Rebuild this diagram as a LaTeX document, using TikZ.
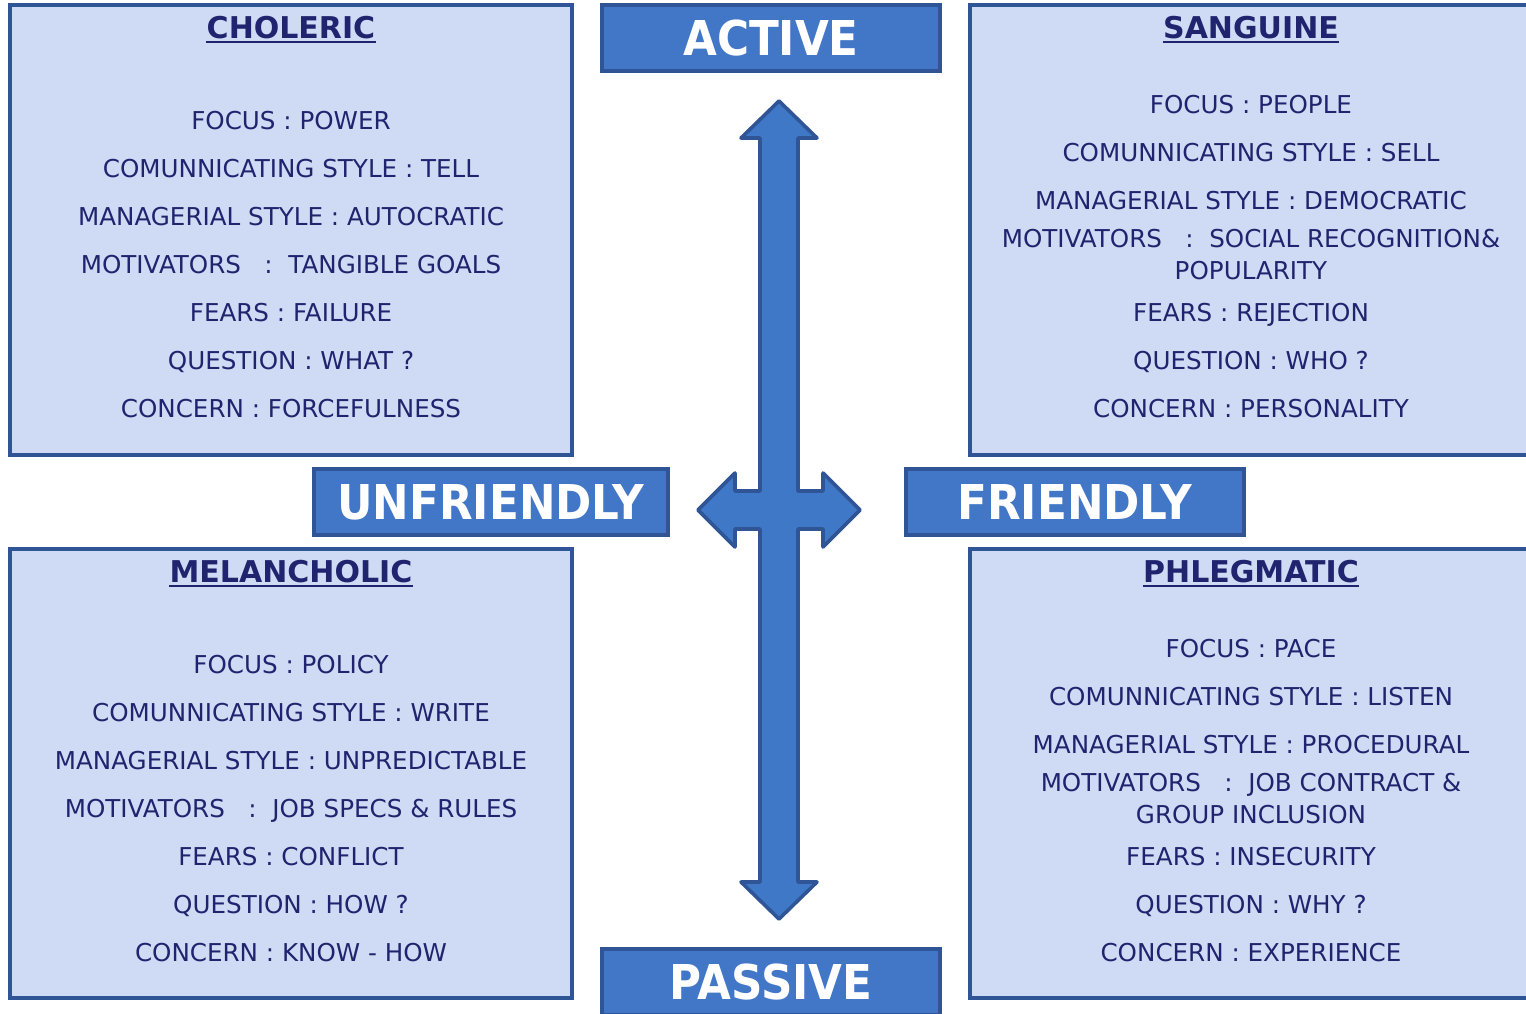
\documentclass[tikz,border=0pt]{standalone}
\usepackage{fontspec}
\setmainfont{DejaVu Sans}
\newfontfamily\labelfont[FakeStretch=0.91]{DejaVu Sans}
\definecolor{boxfill}{RGB}{207,218,244}
\definecolor{boxline}{RGB}{47,85,151}
\definecolor{lblfill}{RGB}{66,119,200}
\definecolor{arrfill}{RGB}{64,120,200}
\definecolor{txt}{RGB}{32,36,110}
\tikzset{
  quad/.style={draw=boxline, fill=boxfill, line width=1.7pt, inner sep=0pt},
  lbl/.style={draw=boxline, fill=lblfill, line width=1.7pt, text=white,
    font=\labelfont\bfseries\fontsize{24}{28}\selectfont, inner sep=0pt,
    minimum width=169pt, minimum height=33pt},
  arrowshape/.style={draw=boxline, fill=arrfill, line width=1.8pt, line join=round},
  body/.style={text=txt, font=\fontsize{12.3}{14}\selectfont, anchor=base, inner sep=0pt},
  ttl/.style={text=txt, font=\bfseries\fontsize{15}{18}\selectfont, anchor=base, inner sep=0pt},
  uline/.style={draw=txt, line width=1.2pt}
}
\begin{document}
\begin{tikzpicture}[x=0.5pt,y=-0.5pt]
\useasboundingbox (0,0) rectangle (1526,1013);
\clip (0,0) rectangle (1526,1013);
% quadrant boxes
\node[quad, minimum width=281pt, minimum height=225pt] (chol) at (291,230) {};
\node[quad, minimum width=287.5pt, minimum height=225pt] (sang) at (1257.5,230) {};
\node[quad, minimum width=281pt, minimum height=224.5pt] (mela) at (291,773.5) {};
\node[quad, minimum width=287.5pt, minimum height=224.5pt] (phle) at (1257.5,773.5) {};
% labels
\node[lbl] (active) at (771,38) {ACTIVE};
\node[lbl] (passive) at (771,982) {PASSIVE};
\node[lbl, minimum width=177pt] (unfr) at (491,502) {UNFRIENDLY};
\node[lbl] (frnd) at (1075,502) {FRIENDLY};
% central arrow
\path[arrowshape] (779,101) -- (817,138) -- (798,138) -- (798,491) -- (823,491) -- (823,473)
  -- (860,510) -- (823,547) -- (823,529) -- (798,529) -- (798,882) -- (817,882)
  -- (779,919) -- (741,882) -- (760,882) -- (760,529) -- (735,529) -- (735,547)
  -- (698,510) -- (735,473) -- (735,491) -- (760,491) -- (760,138) -- (741,138) -- cycle;
% titles
\node[ttl] (tch) at (291,38) {CHOLERIC};
\node[ttl] (tsa) at (1251,38) {SANGUINE};
\node[ttl] (tme) at (291,582) {MELANCHOLIC};
\node[ttl] (tph) at (1251,582) {PHLEGMATIC};
\foreach \n in {tch,tsa,tme,tph}
  \draw[uline] ([yshift=-2pt]\n.base west) -- ([yshift=-2pt]\n.base east);
% choleric
\foreach \y/\t [count=\i] in {129/FOCUS : POWER, 177/COMUNNICATING STYLE : TELL,
  225/MANAGERIAL STYLE : AUTOCRATIC, 273/MOTIVATORS\ \ \ :\ \ TANGIBLE GOALS,
  321/FEARS : FAILURE, 369/QUESTION : WHAT ?, 417/CONCERN : FORCEFULNESS}
  \node[body] (ch\i) at (291,\y) {\t};
% sanguine
\foreach \y/\t [count=\i] in {113/FOCUS : PEOPLE, 161/COMUNNICATING STYLE : SELL,
  209/MANAGERIAL STYLE : DEMOCRATIC, 247/MOTIVATORS\ \ \ :\ \ SOCIAL RECOGNITION\&,
  279/POPULARITY, 321/FEARS : REJECTION, 369/QUESTION : WHO ?, 417/CONCERN : PERSONALITY}
  \node[body] (sa\i) at (1251,\y) {\t};
% melancholic
\foreach \y/\t [count=\i] in {673/FOCUS : POLICY, 721/COMUNNICATING STYLE : WRITE,
  769/MANAGERIAL STYLE : UNPREDICTABLE, 817/MOTIVATORS\ \ \ :\ \ JOB SPECS \& RULES,
  865/FEARS : CONFLICT, 913/QUESTION : HOW ?, 961/CONCERN : KNOW - HOW}
  \node[body] (me\i) at (291,\y) {\t};
% phlegmatic
\foreach \y/\t [count=\i] in {657/FOCUS : PACE, 705/COMUNNICATING STYLE : LISTEN,
  753/MANAGERIAL STYLE : PROCEDURAL, 791/MOTIVATORS\ \ \ :\ \ JOB CONTRACT \&,
  823/GROUP INCLUSION, 865/FEARS : INSECURITY, 913/QUESTION : WHY ?, 961/CONCERN : EXPERIENCE}
  \node[body] (ph\i) at (1251,\y) {\t};
\end{tikzpicture}
\end{document}
